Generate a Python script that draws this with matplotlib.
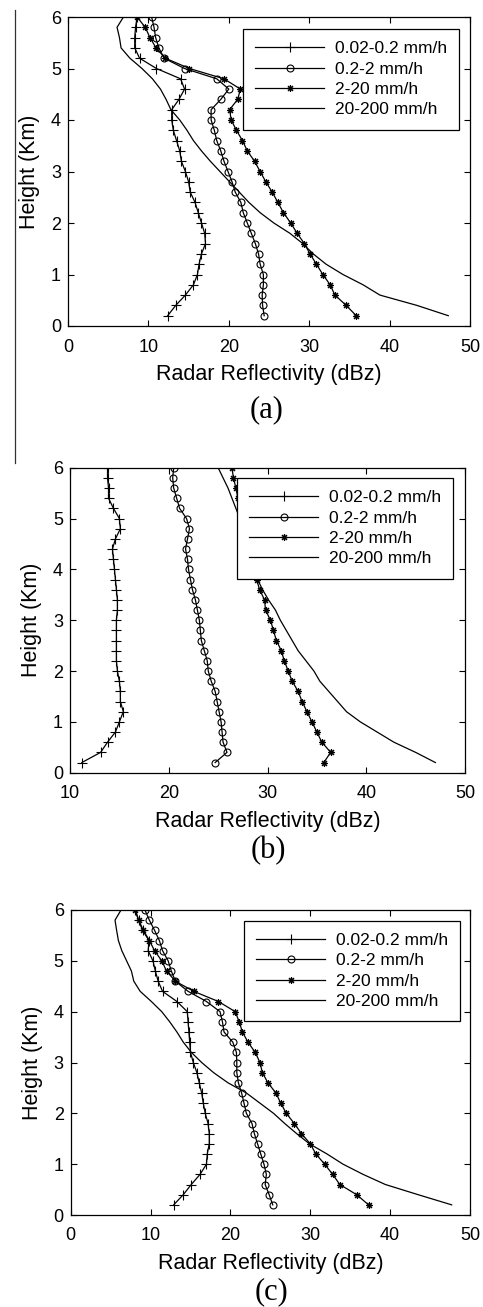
import numpy as np
import matplotlib.pyplot as plt
from matplotlib.lines import Line2D

plt.rcParams['font.family'] = ['Liberation Sans', 'DejaVu Sans']

# heights of the profile samples (km)
height = [0.2, 0.4, 0.6, 0.8, 1.0, 1.2, 1.4, 1.6, 1.8, 2.0,
          2.2, 2.4, 2.6, 2.8, 3.0, 3.2, 3.4, 3.6, 3.8, 4.0,
          4.2, 4.4, 4.6, 4.8, 5.0, 5.2, 5.4, 5.6, 5.8, 6.0]

labels = ['0.02-0.2 mm/h', '0.2-2 mm/h', '2-20 mm/h', '20-200 mm/h']
panel_names = ['(a)', '(b)', '(c)']
xlims = [(0, 50), (10, 50), (0, 50)]

# panel (a)
a_r1 = [12.4, 13.4, 14.6, 15.6, 16.1, 16.3, 16.6, 17.1, 17.0, 16.6,
        16.2, 15.8, 15.2, 15.0, 14.6, 14.1, 13.9, 13.5, 13.1, 12.9,
        12.9, 13.8, 14.5, 14.0, 11.0, 8.9, 8.3, 8.3, 8.4, 8.6]
a_r2 = [24.4, 24.2, 24.15, 24.3, 24.3, 23.9, 23.7, 23.3, 22.8, 22.3,
        21.8, 21.5, 20.8, 20.4, 19.9, 19.4, 19.0, 18.5, 18.2, 17.8,
        17.8, 19.0, 20.0, 18.5, 14.5, 11.95, 11.3, 10.9, 10.7, 10.4]
a_r3 = [35.85, 34.6, 33.2, 32.6, 31.7, 30.9, 30.1, 29.4, 28.5, 27.7,
        26.8, 26.1, 25.4, 24.6, 23.9, 23.2, 22.3, 21.7, 20.95, 20.3,
        20.1, 21.1, 21.45, 19.4, 15.1, 12.1, 10.95, 10.2, 9.6, 8.6]
a_r4 = [47.3, 43.4, 38.8, 36.7, 34.2, 32.1, 30.5, 29.2, 27.6, 25.6,
        23.9, 22.5, 21.3, 20.1, 18.9, 17.7, 16.6, 15.6, 14.8, 13.9,
        12.8, 12.2, 11.5, 10.5, 9.2, 7.7, 6.6, 6.4, 6.1, 6.9]

# panel (b)
b_r1 = [11.2, 13.1, 13.8, 14.6, 15.0, 15.4, 15.1, 15.1, 15.0, 14.8,
        14.7, 14.7, 14.7, 14.7, 14.7, 14.8, 14.8, 14.7, 14.6, 14.5,
        14.4, 14.3, 14.6, 15.1, 15.0, 14.4, 13.9, 13.9, 13.8, 13.8]
b_r2 = [24.7, 25.9, 25.5, 25.4, 25.3, 25.1, 24.9, 24.7, 24.3, 24.0,
        23.9, 23.6, 23.3, 23.2, 23.1, 22.9, 22.7, 22.4, 22.2, 22.0,
        21.9, 21.7, 21.9, 22.1, 21.8, 21.1, 20.8, 20.5, 20.4, 20.5]
b_r3 = [35.7, 36.4, 35.5, 35.0, 34.5, 34.0, 33.5, 33.1, 32.5, 32.1,
        31.7, 31.4, 30.9, 30.6, 30.3, 29.8, 29.7, 29.2, 28.9, 28.5,
        28.3, 28.1, 27.9, 27.6, 27.4, 27.2, 27.0, 26.8, 26.55, 26.4]
b_r4 = [47.0, 45.0, 42.8, 41.1, 39.4, 38.0, 37.1, 36.2, 35.3, 34.7,
        33.9, 33.1, 32.5, 31.9, 31.3, 30.8, 30.1, 29.5, 29.0, 28.6,
        28.3, 28.0, 27.6, 27.4, 27.2, 26.8, 26.4, 26.0, 25.5, 25.0]

# panel (c)
c_r1 = [12.9, 14.1, 15.1, 16.2, 17.0, 17.1, 17.35, 17.35, 17.2, 16.85,
        16.6, 16.4, 16.1, 15.8, 15.35, 15.0, 14.9, 14.8, 14.7, 14.6,
        13.3, 11.5, 10.95, 10.6, 10.3, 9.7, 9.8, 9.0, 8.5, 8.1]
c_r2 = [25.3, 24.85, 24.35, 24.5, 24.2, 23.8, 23.4, 23.0, 22.7, 22.0,
        21.7, 21.4, 21.0, 20.8, 20.8, 20.75, 20.3, 19.2, 19.0, 18.7,
        17.0, 14.7, 13.1, 12.6, 12.2, 11.5, 11.1, 10.5, 9.85, 9.3]
c_r3 = [37.3, 35.8, 33.7, 32.8, 31.8, 30.7, 30.0, 28.9, 28.0, 27.0,
        26.3, 25.7, 24.7, 24.0, 23.7, 23.1, 22.2, 21.5, 21.1, 20.6,
        18.5, 15.4, 13.1, 12.0, 11.4, 10.5, 9.85, 9.1, 8.5, 8.05]
c_r4 = [47.7, 43.5, 39.4, 36.6, 34.1, 32.1, 29.9, 28.3, 26.8, 25.4,
        23.7, 22.0, 19.7, 17.9, 16.4, 15.1, 14.1, 13.3, 12.4, 11.4,
        10.1, 8.7, 7.9, 7.6, 7.0, 6.4, 5.97, 5.75, 5.55, 6.3]

panels = [(a_r1, a_r2, a_r3, a_r4),
          (b_r1, b_r2, b_r3, b_r4),
          (c_r1, c_r2, c_r3, c_r4)]

# axes boxes in pixels (left, top, right, bottom) and legend corner
W, H = 483, 1307
boxes = [(68, 17, 470, 326), (70, 467.7, 465, 772.7), (70.7, 910, 470, 1215)]
legend_corner = [(0.973, 0.961), (0.970, 0.966), (0.975, 0.965)]
caption_pos = [(267, 410), (268, 851), (271, 1292)]

fig = plt.figure(figsize=(W / 100, H / 100), dpi=100)

markers = ['+', 'o', (8, 2, 0), None]
msizes = [7, 5, 5, 0]

for i, series in enumerate(panels):
    l, t, r, b = boxes[i]
    ax = fig.add_axes([l / W, 1 - b / H, (r - l) / W, (b - t) / H])
    for k, xs in enumerate(series):
        ax.plot(xs, height, color='black', linewidth=0.9,
                marker=markers[k], markersize=msizes[k], markeredgewidth=0.8,
                markerfacecolor='none', label=labels[k])
    ax.set_xlim(*xlims[i])
    ax.set_ylim(0, 6)
    ax.set_xticks(np.arange(xlims[i][0], 51, 10))
    ax.set_yticks(np.arange(0, 7, 1))
    ax.tick_params(direction='in', top=True, right=True, length=4,
                   labelsize=13)
    ax.tick_params(axis='x', pad=9)
    ax.tick_params(axis='y', pad=5)
    for sp in ax.spines.values():
        sp.set_linewidth(0.9)
    ax.set_xlabel('Radar Reflectivity (dBz)', fontsize=15.5, labelpad=6)
    ax.set_ylabel('Height (Km)', fontsize=15.5, labelpad=8)
    leg = ax.legend(loc='upper right', bbox_to_anchor=legend_corner[i],
                    borderaxespad=0, fontsize=12.5, handlelength=4.0,
                    handletextpad=0.6, labelspacing=0.3, borderpad=0.7,
                    fancybox=False, framealpha=1, edgecolor='black')
    leg.get_frame().set_linewidth(0.9)
    cx, cy = caption_pos[i]
    fig.text(cx / W, 1 - cy / H, panel_names[i], ha='center', va='center',
             fontsize=22, family=['Liberation Serif', 'DejaVu Serif'])

# thin vertical rule at the left edge of the page
fig.add_artist(Line2D([15 / W, 15 / W], [1 - 10 / H, 1 - 463 / H],
                      color='#333333', linewidth=0.9))

fig.savefig('out.png', dpi=100)
